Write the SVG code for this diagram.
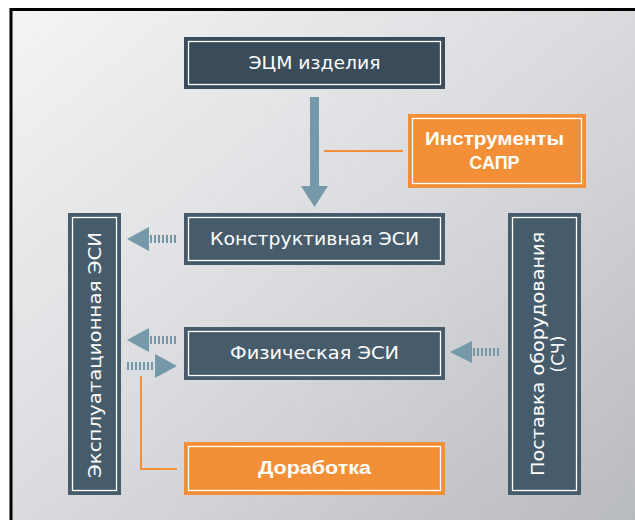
<svg xmlns="http://www.w3.org/2000/svg" width="635" height="520" viewBox="0 0 635 520">
<defs>
<linearGradient id="bg" x1="0" y1="0" x2="1" y2="1">
<stop offset="0" stop-color="#f3f4f5"/>
<stop offset="0.5" stop-color="#d9dadd"/>
<stop offset="1" stop-color="#b5b8bc"/>
</linearGradient>
</defs>
<style>
.dark{fill:#475c6a}
.darker{fill:#3a4b5a}
.orange{fill:#f39037}
.inner{fill:none;stroke:#ffffff;stroke-width:1.3}
.t{font-family:"DejaVu Sans","Liberation Sans",sans-serif;font-size:17px;fill:#ffffff;text-anchor:middle}
.b{font-family:"Liberation Sans",Arial,sans-serif;font-size:18px;font-weight:bold}
.arr{fill:#7599a9}
.dash{stroke:#7599a9;stroke-width:8;stroke-dasharray:2 2;fill:none}
.oline{stroke:#f39037;stroke-width:2;fill:none}
</style>
<rect x="0" y="0" width="635" height="520" fill="#ffffff"/>
<rect x="11" y="9.5" width="640" height="530" fill="url(#bg)" stroke="#000000" stroke-width="3"/>
<g id="connectors">
<rect class="arr" x="310" y="97" width="9" height="90"/>
<polygon class="arr" points="301,186 328,186 314.5,207"/>
<line class="oline" x1="324" y1="151" x2="403" y2="151"/>
<line class="dash" x1="150" y1="239" x2="178" y2="239"/>
<polygon class="arr" points="127,239 149,227 149,251"/>
<line class="dash" x1="150" y1="340" x2="178" y2="340"/>
<polygon class="arr" points="127,340 149,328 149,352"/>
<line class="dash" x1="127" y1="366" x2="155" y2="366"/>
<polygon class="arr" points="177,366 155,354 155,378"/>
<line class="dash" x1="473" y1="352" x2="501" y2="352"/>
<polygon class="arr" points="450,352 472,341 472,363"/>
<polyline class="oline" points="141,376 141,469 177,469"/>
</g>
<g id="ecm">
<rect class="darker" x="184" y="37" width="261" height="52"/>
<rect class="inner" x="188.5" y="41.5" width="252" height="43"/>
<text class="t" x="314.5" y="69" textLength="132" lengthAdjust="spacingAndGlyphs">ЭЦМ изделия</text>
</g>
<g id="sapr">
<rect class="orange" x="408" y="114" width="178" height="74"/>
<rect class="inner" x="412.5" y="118.5" width="169" height="65"/>
<text class="t b" x="494.5" y="145" textLength="139" lengthAdjust="spacingAndGlyphs">Инструменты</text>
<text class="t b" x="494.5" y="169">САПР</text>
</g>
<g id="konstr">
<rect class="dark" x="184" y="213" width="261" height="52"/>
<rect class="inner" x="188.5" y="217.5" width="252" height="43"/>
<text class="t" x="314.5" y="245" textLength="209" lengthAdjust="spacingAndGlyphs">Конструктивная ЭСИ</text>
</g>
<g id="fiz">
<rect class="dark" x="184" y="327" width="261" height="53"/>
<rect class="inner" x="188.5" y="331.5" width="252" height="44"/>
<text class="t" x="314.5" y="359" textLength="169" lengthAdjust="spacingAndGlyphs">Физическая ЭСИ</text>
</g>
<g id="dorabotka">
<rect class="orange" x="184" y="442" width="261" height="53"/>
<rect class="inner" x="188.5" y="446.5" width="252" height="44"/>
<text class="t b" x="314.5" y="474" textLength="113" lengthAdjust="spacingAndGlyphs">Доработка</text>
</g>
<g id="expl">
<rect class="dark" x="68" y="213" width="53" height="282"/>
<rect class="inner" x="72.5" y="217.5" width="44" height="273"/>
<text class="t" transform="translate(101,355) rotate(-90)" x="0" y="0" textLength="246" lengthAdjust="spacingAndGlyphs">Эксплуатационная ЭСИ</text>
</g>
<g id="postavka">
<rect class="dark" x="508" y="213" width="73" height="282"/>
<rect class="inner" x="512.5" y="217.5" width="64" height="273"/>
<text class="t" transform="translate(543.5,354) rotate(-90)" x="0" y="0" textLength="244" lengthAdjust="spacingAndGlyphs">Поставка оборудования</text>
<text class="t" transform="translate(563.5,354) rotate(-90)" x="0" y="0">(СЧ)</text>
</g>
</svg>
